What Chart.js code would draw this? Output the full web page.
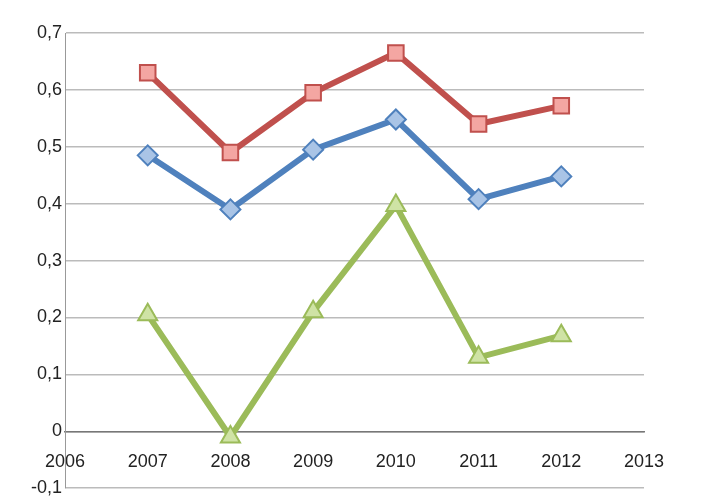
<!DOCTYPE html>
<html><head><meta charset="utf-8">
<script src="https://cdn.jsdelivr.net/npm/chart.js@4"></script>
<style>html,body{margin:0;padding:0;background:#fff}#w{width:706px;height:502px}</style>
</head><body><div id="w"><canvas id="c"></canvas></div>
<script>
const years = [2007, 2008, 2009, 2010, 2011, 2012];
const redValues = [0.63, 0.49, 0.595, 0.665, 0.54, 0.572];
const blueValues = [0.485, 0.39, 0.495, 0.548, 0.408, 0.448];
const greenValues = [0.205, -0.01, 0.21, 0.397, 0.13, 0.168];
const pts = v => years.map((y, i) => ({x: y, y: v[i]}));
new Chart(document.getElementById('c'), {
  type: 'line',
  data: { datasets: [
    {data: pts(redValues), borderColor: '#c0504d', backgroundColor: '#f4a6a2', pointBorderColor: '#c0504d', pointStyle: 'rect', pointRadius: 11, pointBorderWidth: 2, borderWidth: 6},
    {data: pts(blueValues), borderColor: '#4f81bd', backgroundColor: '#a9c4e6', pointBorderColor: '#4f81bd', pointStyle: 'rectRot', pointRadius: 10, pointBorderWidth: 2, borderWidth: 6},
    {data: pts(greenValues), borderColor: '#9bbb59', backgroundColor: '#cfe3a5', pointBorderColor: '#9bbb59', pointStyle: 'triangle', pointRadius: 11, pointBorderWidth: 2, borderWidth: 6}
  ]},
  options: {
    responsive: true, maintainAspectRatio: false, animation: false,
    layout: {padding: {top: 33, right: 62, bottom: 2, left: 4}},
    plugins: {legend: {display: false}, tooltip: {enabled: false}},
    scales: {
      x: {type: 'linear', min: 2006, max: 2013, position: {y: 0},
          ticks: {stepSize: 1, padding: 12, color: '#222', font: {family: 'Liberation Sans', size: 18}, callback: v => String(v)},
          grid: {display: false, drawTicks: true}, border: {color: '#777', width: 1.5}},
      y: {min: -0.1, max: 0.7, afterFit: s => { s.width = 61; },
          ticks: {stepSize: 0.1, color: '#222', font: {family: 'Liberation Sans', size: 18},
                  callback: v => (Math.round(v * 10) / 10).toString().replace('.', ',')},
          grid: {color: '#bbb', lineWidth: 1.5, drawTicks: false}, border: {color: '#999'}}
    }
  }
});
</script></body></html>
